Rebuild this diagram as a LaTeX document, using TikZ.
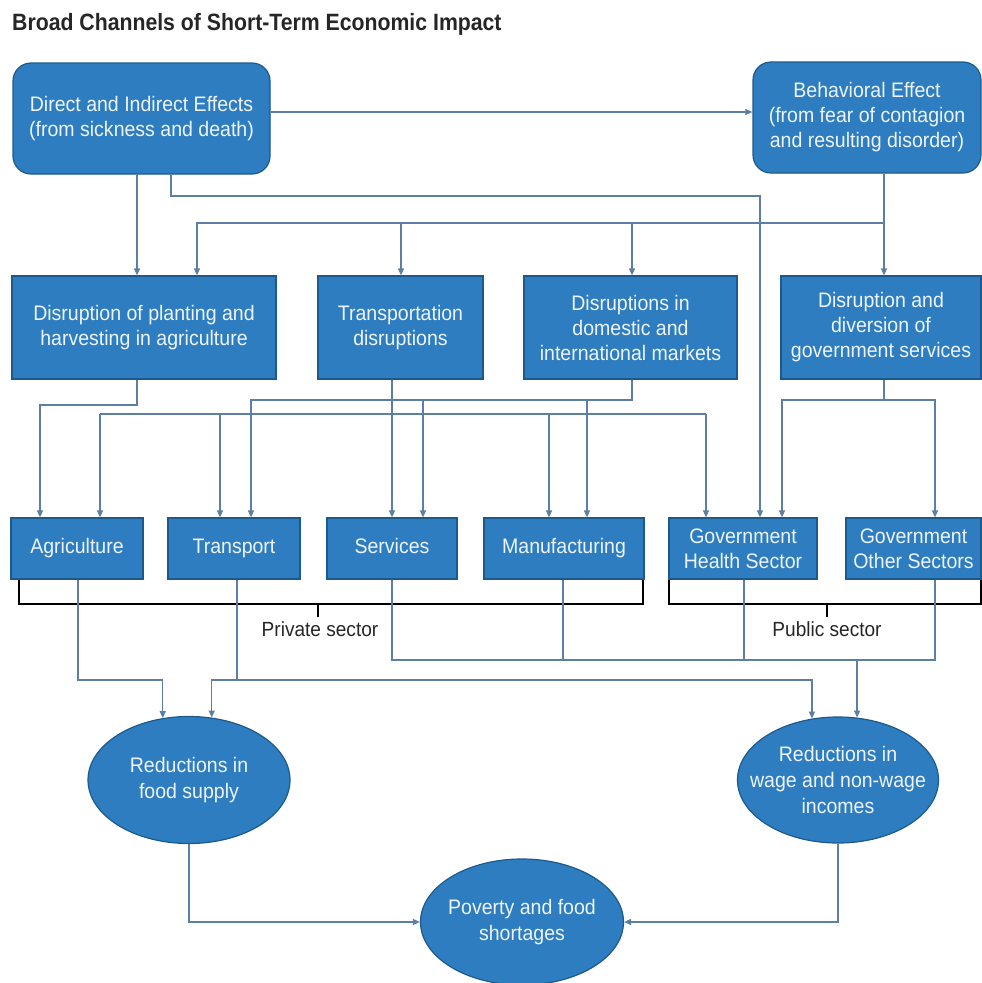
\documentclass[tikz,border=0pt]{standalone}
\usepackage{fontspec}
\setmainfont{Liberation Sans}
\newfontfamily\condfont[FakeStretch=0.93]{Liberation Sans}
\newfontfamily\titlefont[FakeStretch=0.9]{Liberation Sans}
\usetikzlibrary{arrows.meta,shapes.geometric}
\definecolor{boxblue}{HTML}{2E7DC0}
\definecolor{boxedge}{HTML}{1D5A8C}
\definecolor{connblue}{HTML}{5C7FA3}
\definecolor{boxtext}{HTML}{EEF4FB}
\definecolor{titlegray}{HTML}{262626}
\tikzset{
  box/.style={draw=boxedge, line width=1.2pt, fill=boxblue, text=boxtext, align=center,
    font=\condfont\fontsize{21}{25}\selectfont, inner sep=0pt},
  oneline/.style={execute at begin node=\strut, execute at end node=\strut},
  roundbox/.style={box, rounded corners=18pt},
  oval/.style={ellipse, draw=boxedge, line width=1.2pt, fill=boxblue, inner sep=0pt},
  ovaltext/.style={text=boxtext, align=center, font=\condfont\fontsize{21}{26}\selectfont},
  conn/.style={draw=connblue, line width=1.4pt},
  arr/.style={conn, -{Triangle[length=7pt,width=6pt]}},
  bracket/.style={draw=black, line width=1.4pt},
  sectorlabel/.style={text=titlegray, font=\condfont\fontsize{20.5}{23}\selectfont, inner sep=0pt}
}
\begin{document}
\begin{tikzpicture}[x=1pt, y=-1pt]
\useasboundingbox (0,0) rectangle (982,983);
\fill[white] (0,0) rectangle (982,983);
\node[anchor=base west, inner sep=0pt, text=titlegray, font=\titlefont\bfseries\fontsize{23.6}{26}\selectfont] (title) at (12,30) {Broad Channels of Short-Term Economic Impact};

% top row
\node[roundbox, minimum width=257pt, minimum height=111pt] (direct) at (141.5,118.5) {Direct and Indirect Effects\\(from sickness and death)};
\node[roundbox, minimum width=228pt, minimum height=111pt] (behav) at (867,117.5) {Behavioral Effect\\(from fear of contagion\\and resulting disorder)};

% second row
\node[box, minimum width=264pt, minimum height=103pt] (plant) at (144,327.5) {Disruption of planting and\\harvesting in agriculture};
\node[box, minimum width=165pt, minimum height=103pt] (transp) at (400.5,327.5) {Transportation\\disruptions};
\node[box, minimum width=213pt, minimum height=103pt] (markets) at (630.5,327.5) {Disruptions in\\domestic and\\international markets};
\node[box, minimum width=200pt, minimum height=103pt] (govserv) at (881,327.5) {Disruption and\\diversion of\\government services};

% third row
\node[box, oneline, minimum width=132pt, minimum height=61pt] (agri) at (77,548.5) {Agriculture};
\node[box, oneline, minimum width=132pt, minimum height=61pt] (trans) at (234,548.5) {Transport};
\node[box, oneline, minimum width=130pt, minimum height=61pt] (serv) at (392,548.5) {Services};
\node[box, oneline, minimum width=160pt, minimum height=61pt] (manu) at (564,548.5) {Manufacturing};
\node[box, minimum width=148pt, minimum height=61pt] (ghealth) at (743,548.5) {Government\\Health Sector};
\node[box, minimum width=135pt, minimum height=61pt] (gother) at (913.5,548.5) {Government\\Other Sectors};

% ovals
\node[oval, minimum width=202pt, minimum height=127pt, label={[ovaltext]center:Reductions in\\food supply}] (food) at (189,780) {};
\node[oval, minimum width=201pt, minimum height=126pt, label={[ovaltext]center:Reductions in\\wage and non-wage\\incomes}] (wage) at (838,780) {};
\node[oval, minimum width=203pt, minimum height=126pt, label={[ovaltext]center:Poverty and food\\shortages}] (pov) at (522,922) {};

% top connectors
\draw[arr] (direct.east |- 0,112) -- (behav.west |- 0,112);
\draw[arr] (direct.south -| 137,0) -- (plant.north -| 137,0);
\draw[arr] (direct.south -| 171,0) |- (760,196) -- (ghealth.north -| 760,0);
\draw[arr] (behav.south -| 884,0) -- (govserv.north -| 884,0);
\draw[arr] (behav.south -| 884,0) |- (197,223) -- (plant.north -| 197,0);
\draw[arr] (401,223) -- (transp.north -| 401,0);
\draw[arr] (632,223) -- (markets.north -| 632,0);

% second to third row
\draw[arr] (plant.south -| 137,0) |- (40,405) -- (agri.north -| 40,0);
\draw[arr] (markets.south -| 632,0) |- (251,400) -- (trans.north -| 251,0);
\draw[arr] (423,400) -- (serv.north -| 423,0);
\draw[arr] (587,400) -- (manu.north -| 587,0);
\draw[arr] (transp.south -| 392,0) -- (serv.north -| 392,0);
\draw[conn] (100,414) -- (706,414);
\draw[arr] (100,414) -- (agri.north -| 100,0);
\draw[arr] (220,414) -- (trans.north -| 220,0);
\draw[arr] (549,414) -- (manu.north -| 549,0);
\draw[arr] (706,414) -- (ghealth.north -| 706,0);
\draw[arr] (govserv.south -| 884,0) |- (782,400) -- (ghealth.north -| 782,0);
\draw[arr] (884,400) -| (gother.north -| 935,0);

% brackets
\draw[bracket] (agri.south -| 19,0) |- (643,604) -- (manu.south -| 643,0);
\draw[bracket] (318,604) -- (318,617);
\node[sectorlabel] (priv) at (320,629) {Private sector};
\draw[bracket] (ghealth.south -| 669,0) |- (981,604) -- (gother.south -| 981,0);
\draw[bracket] (827,604) -- (827,617);
\node[sectorlabel] (pub) at (827,629) {Public sector};

% third row to ovals
\draw[arr] (agri.south -| 78,0) |- (food.113 |- 0,680) -- (food.113);
\draw[arr] (trans.south -| 237,0) |- (food.70 |- 0,680) -- (food.70);
\draw[arr] (trans.south -| 237,0) |- (wage.113 |- 0,680) -- (wage.113);
\draw[conn] (serv.south -| 392,0) |- (935,660) -- (gother.south -| 935,0);
\draw[conn] (manu.south -| 563,0) -- (563,660);
\draw[conn] (ghealth.south -| 744,0) -- (744,660);
\draw[arr] (wage.73 |- 0,660) -- (wage.73);

% bottom
\draw[arr] (food.south) |- (pov.west);
\draw[arr] (wage.south) |- (pov.east);
\end{tikzpicture}
\end{document}
